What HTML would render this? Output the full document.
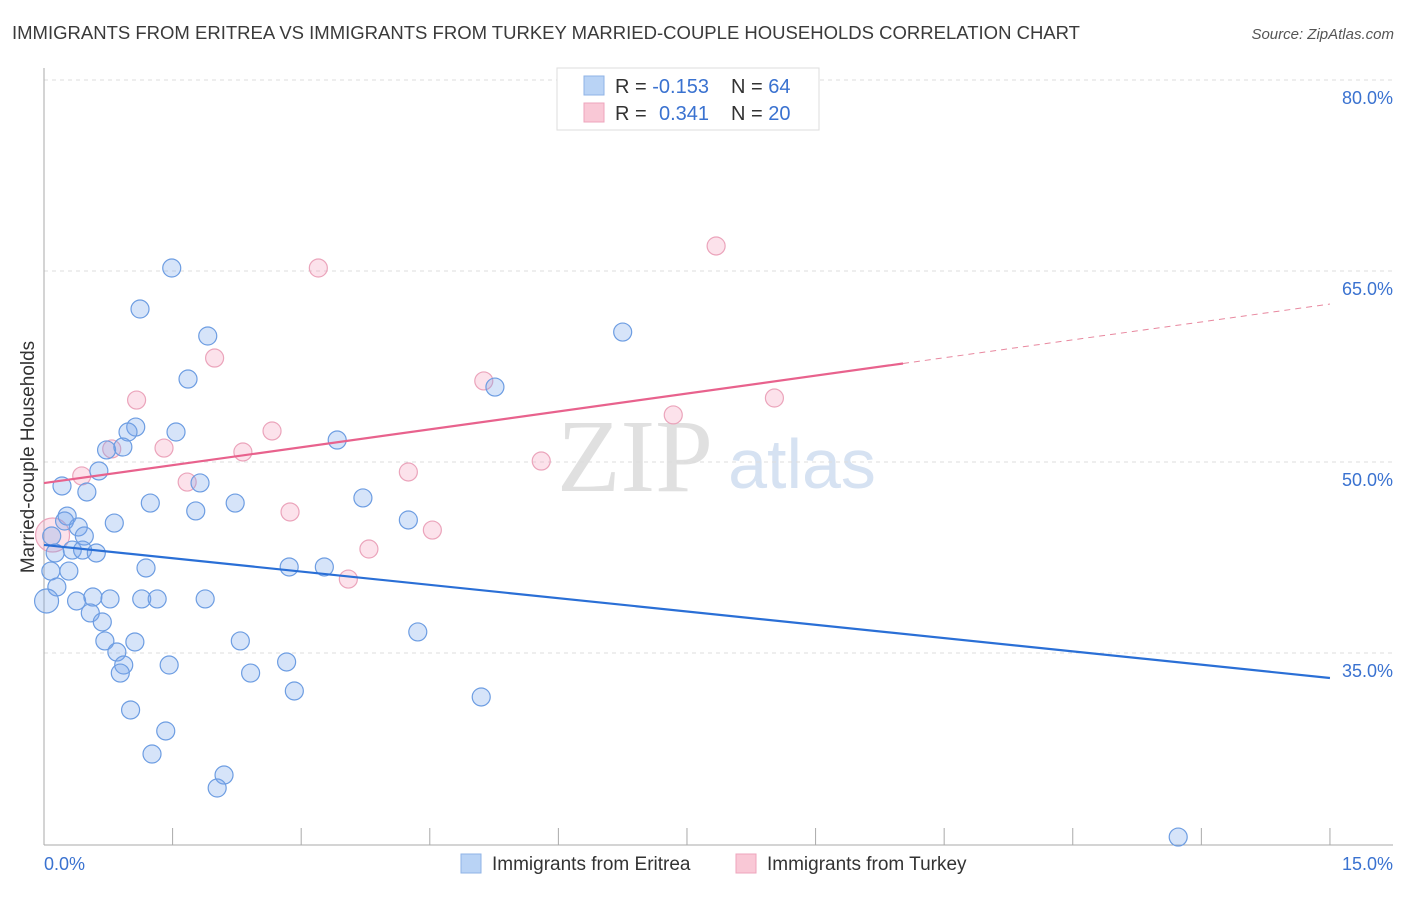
<!DOCTYPE html>
<html><head><meta charset="utf-8"><style>
body{margin:0;background:#fff;font-family:"Liberation Sans",sans-serif}
</style></head><body>
<svg id="chart" width="1406" height="892" xmlns="http://www.w3.org/2000/svg" font-family="Liberation Sans, sans-serif">
<text x="12" y="39" font-size="18.5" fill="#3a3a3a" textLength="1068" lengthAdjust="spacingAndGlyphs">IMMIGRANTS FROM ERITREA VS IMMIGRANTS FROM TURKEY MARRIED-COUPLE HOUSEHOLDS CORRELATION CHART</text>
<text x="1394" y="39" font-size="15" font-style="italic" fill="#555" text-anchor="end">Source: ZipAtlas.com</text>
<g>
<text x="635" y="491" font-size="104" font-family="Liberation Serif, serif" fill="#e0e0e0" text-anchor="middle">ZIP</text>
<text x="802" y="488" font-size="70" fill="#d6e2f2" text-anchor="middle">atlas</text>
</g>
<g id="grid"></g><g id="axes"></g><g id="pts"></g><g id="trends"></g>
<text transform="translate(34,457) rotate(-90)" font-size="19" fill="#333" text-anchor="middle">Married-couple Households</text>
<g>
<rect x="557" y="68" width="262" height="62" fill="#fff" stroke="#ddd"/>
<rect x="584" y="76" width="20" height="19" fill="#b9d3f5" stroke="#8fb3e6"/>
<rect x="584" y="103" width="20" height="19" fill="#f9c8d6" stroke="#eea5bc"/>
<text x="615" y="93" font-size="20" fill="#333">R = <tspan fill="#3a72d0">-0.153</tspan><tspan x="731">N = </tspan><tspan fill="#3a72d0">64</tspan></text>
<text x="615" y="120" font-size="20" fill="#333">R = <tspan x="659" fill="#3a72d0">0.341</tspan><tspan x="731">N = </tspan><tspan fill="#3a72d0">20</tspan></text>
</g>
<g>
<rect x="461" y="854" width="20" height="19" fill="#b9d3f5" stroke="#8fb3e6"/>
<text x="492" y="870" font-size="19" fill="#333">Immigrants from Eritrea</text>
<rect x="736" y="854" width="20" height="19" fill="#f9c8d6" stroke="#eea5bc"/>
<text x="767" y="870" font-size="19" fill="#333">Immigrants from Turkey</text>
</g>
</svg>
<script>
const NS="http://www.w3.org/2000/svg";
const yTicks=[80,65,50,35];
const yTickLabels=["80.0%","65.0%","50.0%","35.0%"];
const xTickLabels=["0.0%","15.0%"];
const eritreaX=[1.49,1.12,1.91,1.68,6.75,5.26,1.07,0.98,1.54,0.73,0.92,3.42,0.64,0.21,0.50,1.82,1.24,1.77,2.23,3.72,4.25,0.27,0.24,0.40,0.82,0.47,0.09,0.13,0.33,0.45,0.61,1.19,2.86,3.27,0.29,0.08,0.15,0.03,0.38,0.57,0.77,1.14,1.32,1.88,0.54,0.68,4.36,0.71,1.06,2.29,0.85,0.93,1.46,0.89,2.41,2.83,2.92,5.10,1.01,1.42,1.26,2.10,2.02,13.23];
const eritreaY=[66.57,63.35,61.23,57.85,61.54,57.22,54.08,53.69,53.69,52.28,52.51,53.06,50.63,49.45,48.98,49.69,48.11,47.49,48.11,48.51,46.78,47.09,46.70,46.23,46.54,45.52,45.52,44.19,44.42,44.42,44.19,43.01,43.09,43.09,42.77,42.77,41.52,40.42,40.42,40.73,40.58,40.58,40.58,40.58,39.48,38.77,37.99,37.28,37.20,37.28,36.41,35.39,35.39,34.76,34.76,35.63,33.35,32.88,31.86,30.21,28.40,26.75,25.73,21.88];
const turkeyX=[3.20,7.84,1.99,1.08,5.13,8.52,7.34,1.40,0.79,2.66,2.32,0.44,1.67,4.25,5.80,2.87,4.53,3.79,3.55,0.10];
const turkeyY=[66.57,68.30,59.50,56.20,57.70,56.36,55.03,52.43,52.36,53.77,52.12,50.24,49.76,50.55,51.41,47.41,45.99,44.50,42.14,45.60];
const eritreaTrend=[44.82,34.37];
const turkeyTrend=[49.68,63.74];
const turkeySolidEnd=10.02;
const xS=v=>44+v*85.73, yS=v=>97+(80-v)*12.733;
function mk(tag,attrs,parent){const e=document.createElementNS(NS,tag);for(const k in attrs)e.setAttribute(k,attrs[k]);parent.appendChild(e);return e;}
const grid=document.getElementById('grid'),axes=document.getElementById('axes'),pts=document.getElementById('pts'),tr=document.getElementById('trends');
yTicks.forEach((v,i)=>{
 const g=mk('line',{x1:44,x2:1393,y1:yS(v)-17,y2:yS(v)-17,stroke:'#ddd','stroke-dasharray':'4,4'},grid);
 
 
 const t=mk('text',{x:1393,y:yS(v)+7,'font-size':18,fill:'#3a72d0','text-anchor':'end'},grid);t.textContent=yTickLabels[i];
 
 
});
const ax=mk('line',{x1:44,x2:44,y1:68,y2:845,stroke:'#aaa'},axes);


const bx=mk('line',{x1:44,x2:1393,y1:845,y2:845,stroke:'#aaa'},axes);


for(let i=1;i<=10;i++){const t=mk('line',{x1:xS(i*1.5),x2:xS(i*1.5),y1:828,y2:845,stroke:'#aaa'},axes);
 
 }
[[0,'start',44],[15,'end',1393]].forEach((d,i)=>{const t=mk('text',{x:d[2],y:870,'font-size':18,fill:'#3a72d0','text-anchor':d[1]},axes);t.textContent=xTickLabels[i];
 
 });
turkeyX.forEach((x,i)=>{const r=(i==19)?17:9;const c=mk('circle',{cx:xS(x),cy:yS(turkeyY[i]),r:r,fill:'rgba(244,160,190,0.3)',stroke:'#eba4bb','stroke-width':1.2},pts);
 
 });
eritreaX.forEach((x,i)=>{const r=(i==37)?12:9;const c=mk('circle',{cx:xS(x),cy:yS(eritreaY[i]),r:r,fill:'rgba(120,165,235,0.3)',stroke:'#6d9de2','stroke-width':1.2},pts);
 
 });
const bl=mk('line',{x1:xS(0),y1:yS(eritreaTrend[0]),x2:xS(15),y2:yS(eritreaTrend[1]),stroke:'#2a6fd6','stroke-width':2.2},tr);


const ty=x=>turkeyTrend[0]+(turkeyTrend[1]-turkeyTrend[0])*x/15;
const pl=mk('line',{x1:xS(0),y1:yS(ty(0)),x2:xS(turkeySolidEnd),y2:yS(ty(turkeySolidEnd)),stroke:'#e8628d','stroke-width':2.2},tr);


const pd=mk('line',{x1:xS(turkeySolidEnd),y1:yS(ty(turkeySolidEnd)),x2:xS(15),y2:yS(ty(15)),stroke:'#e8889f','stroke-width':1,'stroke-dasharray':'6,5'},tr);


</script>
</body></html>
